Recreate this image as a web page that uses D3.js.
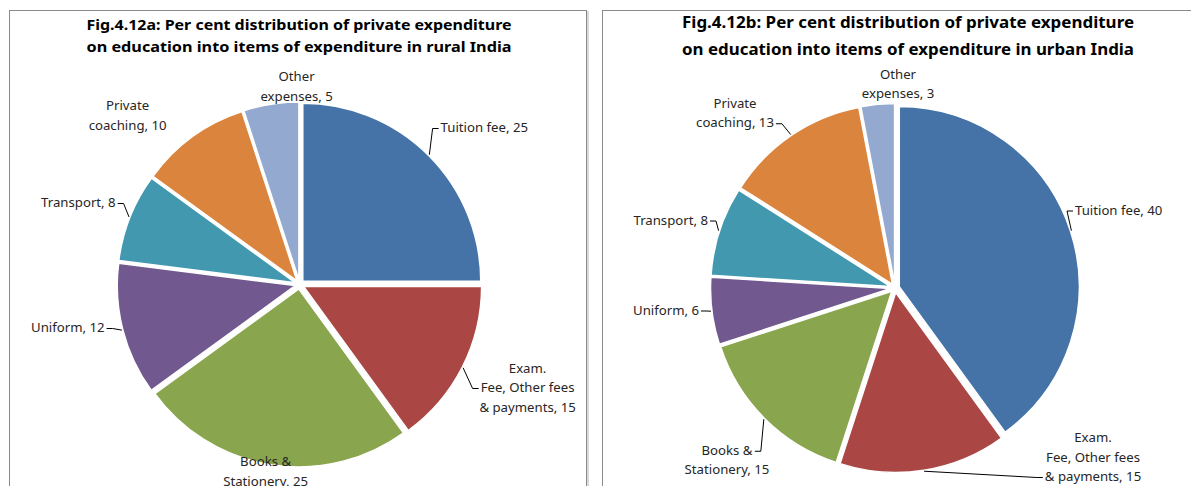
<!DOCTYPE html>
<html>
<head>
<meta charset="utf-8">
<script src="https://cdn.jsdelivr.net/npm/d3@7"></script>
<style>
  body { margin: 0; background: #fff; }
  text { font-family: "Noto Sans", "Open Sans", sans-serif; fill: #262626; }
  .title { font-weight: bold; fill: #000; }
</style>
</head>
<body>
<svg id="chart" width="1191" height="486"></svg>
<script>
// categories shared by both pies ("\n" = line break in label)
var categories = ["Tuition fee", "Exam.\nFee, Other fees\n& payments", "Books &\nStationery",
                  "Uniform", "Transport", "Private\ncoaching", "Other\nexpenses"];
var ruralValues = [25, 15, 25, 12, 8, 10, 5];
var urbanValues = [40, 15, 15, 6, 8, 13, 3];
var ruralTitle = ["Fig.4.12a: Per cent distribution of private expenditure",
                  "on education into items of expenditure in rural India"];
var urbanTitle = ["Fig.4.12b: Per cent distribution of private expenditure",
                  "on education into items of expenditure in urban India"];

var colors = ["#4573A7", "#AA4643", "#89A54E", "#71588F", "#4198AF", "#DB843D", "#93A9CF"];

// label placement relative to pie centre: dx, dy, anchor, leader?, line the leader attaches to
var ruralLabels = [
  [141, -156, "start", true, 0],
  [228, 104, "middle", true, 1],
  [-34, 188, "middle", false, 0],
  [-195, 44, "end", true, 0],
  [-184, -81, "end", true, 0],
  [-172, -168, "middle", false, 1],
  [-3, -197, "middle", false, 1]
];
var urbanLabels = [
  [180, -77, "start", true, 0],
  [198, 170, "middle", true, 2],
  [-168, 173, "middle", true, 0],
  [-196, 23, "end", true, 0],
  [-187, -67, "end", true, 0],
  [-160, -174, "middle", true, 1],
  [3, -203, "middle", false, 1]
];

var svg = d3.select("#chart");

var charts = [
  {title: ruralTitle, values: ruralValues, labels: ruralLabels,
   panel: {x: 9.5, y: 10.5, w: 577}, cx: 299.6, cy: 284.5, r: 178, tx: 299, ty: [26, 48], tw: 425, fs: 15},
  {title: urbanTitle, values: urbanValues, labels: urbanLabels,
   panel: {x: 602.5, y: 10.5, w: 640}, cx: 895, cy: 288, r: 180, tx: 908, ty: [24, 51], tw: 452, fs: 16}
];

var explode = 4.5;
var lineH = 19.5;

charts.forEach(function(c) {
  var g = svg.append("g");

  // panel frame with a faint shadow
  g.append("rect")
    .attr("x", c.panel.x + 1.5).attr("y", c.panel.y + 1.5)
    .attr("width", c.panel.w).attr("height", 600)
    .attr("fill", "none").attr("stroke", "#d9d9d9").attr("stroke-width", 2);
  g.append("rect")
    .attr("x", c.panel.x).attr("y", c.panel.y)
    .attr("width", c.panel.w).attr("height", 600)
    .attr("fill", "#fff").attr("stroke", "#8a8a8a").attr("stroke-width", 1);

  // title
  c.title.forEach(function(t, i) {
    g.append("text")
      .attr("class", "title")
      .attr("x", c.tx).attr("y", c.ty[i])
      .attr("text-anchor", "middle")
      .attr("dominant-baseline", "middle")
      .attr("textLength", c.tw)
      .attr("lengthAdjust", "spacingAndGlyphs")
      .style("font-size", c.fs + "px")
      .text(t);
  });

  var pie = d3.pie().sort(null).value(function(d) { return d; });
  var arcs = pie(c.values);
  var arc = d3.arc().innerRadius(0).outerRadius(c.r);

  var plot = g.append("g").attr("transform", "translate(" + c.cx + "," + c.cy + ")");

  function offset(d, dist) {
    var a = (d.startAngle + d.endAngle) / 2;
    return [Math.sin(a) * dist, -Math.cos(a) * dist];
  }

  plot.selectAll("path.slice")
    .data(arcs)
    .enter().append("path")
    .attr("class", "slice")
    .attr("d", arc)
    .attr("transform", function(d) { var o = offset(d, explode); return "translate(" + o + ")"; })
    .attr("fill", function(d, i) { return colors[i]; })
    .attr("stroke", "#fff")
    .attr("stroke-width", 1.5);

  // data labels
  arcs.forEach(function(d, i) {
    var L = c.labels[i];
    var lines = (categories[i] + ", " + d.data).split("\n");
    var label = plot.append("text")
      .attr("text-anchor", L[2])
      .style("font-size", "13.2px");
    var y0 = L[1] - (lines.length - 1) * lineH / 2;
    var spans = lines.map(function(s, k) {
      return label.append("tspan")
        .attr("x", L[0])
        .attr("y", y0 + k * lineH)
        .attr("dominant-baseline", "middle")
        .text(s);
    });

    if (L[3]) {
      var bb = spans[L[4]].node().getBBox();
      var edge = offset(d, c.r + explode + 1);
      var ay = y0 + L[4] * lineH;
      var ax = (edge[0] < bb.x) ? bb.x - 2 : bb.x + bb.width + 2;
      var bx = (edge[0] < bb.x) ? ax - 6 : ax + 6;
      plot.append("path")
        .attr("d", d3.line()([edge, [bx, ay], [ax, ay]]))
        .attr("fill", "none")
        .attr("stroke", "#000")
        .attr("stroke-width", 1);
    }
  });
});
</script>
</body>
</html>
